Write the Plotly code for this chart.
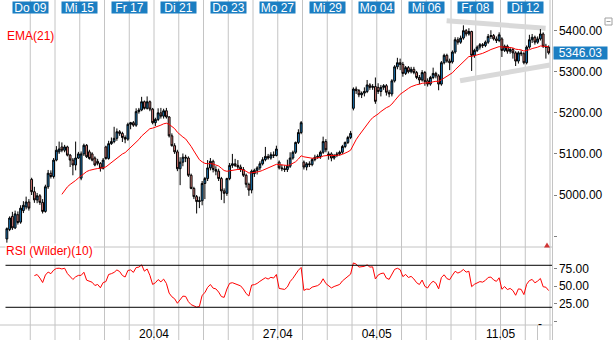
import numpy as np
import plotly.graph_objects as go

# ---- data -------------------------------------------------------------
# hourly bars, 9 per trading day
BARS_PER_DAY = 9
days = ["08.04", "09.04", "14.04", "15.04", "16.04", "17.04", "20.04", "21.04",
        "22.04", "23.04", "24.04", "27.04", "28.04", "29.04", "30.04", "04.05",
        "05.05", "06.05", "07.05", "08.05", "11.05", "12.05"]

top_labels = ["Do 09", "Mi 15", "Fr 17", "Di 21", "Do 23", "Mo 27",
              "Mi 29", "Mo 04", "Mi 06", "Fr 08", "Di 12"]
top_label_days = [1, 3, 5, 7, 9, 11, 13, 15, 17, 19, 21]

week_labels = ["20.04", "27.04", "04.05", "11.05"]
week_label_days = [6, 11, 15, 20]

price_ticks = [4900, 5000, 5100, 5200, 5300, 5400]
price_ticktext = ["", "5000.00", "5100.00", "5200.00", "5300.00", "5400.00"]
rsi_ticks = [0, 25, 50, 75]
rsi_ticktext = ["", "25.00", "50.00", "75.00"]
rsi_levels = [80, 20]

opens = [
    4893, 4916, 4948, 4920, 4952, 4934, 4962, 4971, 4983,   # 08.04
    5038, 5008, 4988, 4998, 4982, 4960, 5020, 5053, 5045,   # 09.04
    5085, 5105, 5117, 5109, 5117, 5097, 5085, 5073, 5090,   # 14.04
    5041, 5100, 5121, 5105, 5100, 5090, 5082, 5077, 5065,   # 15.04
    5117, 5089, 5125, 5130, 5138, 5154, 5150, 5140, 5136,   # 16.04
    5172, 5176, 5170, 5203, 5207, 5227, 5211, 5227, 5209,   # 17.04
    5176, 5184, 5200, 5192, 5205, 5190, 5144, 5120, 5105,   # 20.04
    5064, 5080, 5092, 5090, 5048, 5016, 4996, 4984, 4986,   # 21.04
    5028, 5040, 5066, 5082, 5062, 5058, 5040, 5010, 5004,   # 22.04
    5040, 5072, 5076, 5072, 5068, 5062, 5048, 5026, 5012,   # 23.04
    5052, 5060, 5066, 5076, 5086, 5094, 5090, 5098, 5096,   # 24.04
    5080, 5066, 5064, 5062, 5070, 5090, 5104, 5128, 5152,   # 27.04
    5080, 5068, 5076, 5074, 5086, 5092, 5094, 5104, 5130,   # 28.04
    5096, 5100, 5090, 5096, 5100, 5104, 5118, 5128, 5140,   # 29.04
    5211, 5258, 5254, 5244, 5248, 5252, 5268, 5262, 5264,   # 30.04
    5262, 5252, 5262, 5266, 5250, 5246, 5278, 5312, 5322,   # 04.05
    5318, 5296, 5310, 5300, 5306, 5298, 5286, 5280, 5298,   # 05.05
    5278, 5270, 5286, 5296, 5290, 5270, 5322, 5340, 5326,   # 06.05
    5324, 5348, 5378, 5372, 5382, 5400, 5392, 5398, 5340,   # 07.05
    5352, 5360, 5366, 5364, 5372, 5386, 5388, 5380, 5376,   # 08.05
    5380, 5352, 5362, 5350, 5354, 5346, 5326, 5346, 5344,   # 11.05
    5322, 5360, 5378, 5384, 5372, 5380, 5392, 5362, 5360,   # 12.05
]
highs = [
    4921, 4948, 4959, 4962, 4960, 4975, 4985, 4996, 4990,
    5042, 5020, 5005, 5002, 4990, 5025, 5061, 5060, 5090,
    5119, 5130, 5128, 5122, 5120, 5100, 5090, 5130, 5105,
    5106, 5125, 5124, 5110, 5104, 5094, 5088, 5080, 5090,
    5120, 5132, 5140, 5166, 5162, 5158, 5154, 5145, 5176,
    5178, 5180, 5211, 5212, 5239, 5230, 5240, 5230, 5212,
    5188, 5211, 5212, 5210, 5212, 5192, 5150, 5126, 5110,
    5092, 5101, 5098, 5094, 5052, 5020, 5000, 4996, 5034,
    5044, 5085, 5090, 5086, 5070, 5064, 5044, 5016, 5042,
    5078, 5100, 5088, 5085, 5074, 5068, 5052, 5030, 5062,
    5064, 5070, 5082, 5092, 5117, 5100, 5104, 5106, 5120,
    5084, 5074, 5072, 5086, 5104, 5108, 5130, 5160, 5180,
    5084, 5080, 5082, 5090, 5098, 5099, 5108, 5142, 5136,
    5106, 5104, 5100, 5105, 5108, 5122, 5130, 5144, 5156,
    5262, 5264, 5258, 5252, 5262, 5280, 5272, 5270, 5286,
    5272, 5268, 5270, 5270, 5256, 5282, 5316, 5334, 5332,
    5324, 5314, 5314, 5312, 5312, 5302, 5292, 5304, 5302,
    5284, 5290, 5310, 5300, 5294, 5326, 5344, 5344, 5332,
    5352, 5384, 5384, 5388, 5413, 5404, 5406, 5400, 5356,
    5364, 5370, 5370, 5376, 5392, 5401, 5392, 5386, 5396,
    5384, 5366, 5366, 5360, 5358, 5350, 5350, 5352, 5348,
    5364, 5390, 5392, 5388, 5386, 5404, 5396, 5368, 5364,
]
lows = [
    4884, 4912, 4915, 4917, 4928, 4930, 4956, 4965, 4962,
    5000, 4981, 4980, 4976, 4955, 4957, 5015, 5040, 5040,
    5082, 5100, 5104, 5104, 5094, 5068, 5048, 5060, 5088,
    5036, 5095, 5090, 5086, 5082, 5070, 5072, 5057, 5062,
    5086, 5086, 5122, 5126, 5132, 5144, 5129, 5126, 5132,
    5160, 5166, 5166, 5198, 5204, 5208, 5208, 5204, 5172,
    5168, 5180, 5186, 5186, 5186, 5140, 5118, 5100, 5058,
    5024, 5070, 5080, 5044, 5014, 4990, 4955, 4968, 4975,
    4990, 5034, 5060, 5055, 5048, 5034, 4988, 4980, 4998,
    5036, 5066, 5068, 5062, 5056, 5044, 5018, 4998, 5004,
    5044, 5050, 5060, 5072, 5082, 5086, 5086, 5090, 5094,
    5062, 5058, 5056, 5056, 5066, 5086, 5100, 5124, 5148,
    5062, 5060, 5068, 5070, 5082, 5088, 5088, 5100, 5104,
    5086, 5082, 5086, 5092, 5096, 5100, 5114, 5124, 5136,
    5206, 5246, 5238, 5236, 5240, 5248, 5256, 5256, 5222,
    5246, 5240, 5256, 5242, 5238, 5240, 5274, 5306, 5304,
    5288, 5292, 5296, 5296, 5294, 5282, 5270, 5276, 5266,
    5264, 5266, 5282, 5284, 5255, 5266, 5318, 5322, 5304,
    5320, 5344, 5366, 5368, 5378, 5386, 5388, 5302, 5334,
    5348, 5354, 5358, 5360, 5368, 5380, 5376, 5370, 5372,
    5336, 5348, 5344, 5344, 5332, 5314, 5320, 5338, 5318,
    5318, 5356, 5370, 5366, 5368, 5376, 5358, 5332, 5342,
]
closes = [
    4918, 4944, 4920, 4954, 4933, 4968, 4975, 4983, 4968,
    5008, 4988, 4998, 4982, 4960, 5020, 5053, 5045, 5085,
    5109, 5112, 5109, 5117, 5097, 5085, 5073, 5090, 5100,
    5100, 5121, 5093, 5089, 5085, 5073, 5077, 5065, 5085,
    5089, 5125, 5130, 5138, 5154, 5150, 5140, 5136, 5172,
    5176, 5170, 5203, 5207, 5227, 5211, 5227, 5209, 5176,
    5184, 5200, 5192, 5205, 5190, 5144, 5120, 5105, 5064,
    5080, 5092, 5090, 5048, 5016, 4996, 4984, 4986, 5028,
    5040, 5066, 5082, 5062, 5058, 5040, 5010, 5004, 5040,
    5072, 5076, 5072, 5068, 5062, 5048, 5026, 5012, 5058,
    5060, 5066, 5076, 5086, 5094, 5090, 5098, 5096, 5112,
    5066, 5064, 5062, 5070, 5090, 5104, 5128, 5152, 5176,
    5068, 5076, 5074, 5086, 5092, 5094, 5104, 5130, 5110,
    5100, 5090, 5096, 5100, 5104, 5118, 5128, 5140, 5150,
    5258, 5254, 5244, 5248, 5252, 5268, 5262, 5264, 5228,
    5252, 5262, 5266, 5250, 5246, 5278, 5312, 5322, 5318,
    5296, 5310, 5300, 5306, 5298, 5286, 5280, 5298, 5276,
    5270, 5286, 5296, 5290, 5270, 5322, 5340, 5326, 5322,
    5348, 5378, 5372, 5382, 5400, 5392, 5398, 5340, 5352,
    5360, 5366, 5364, 5372, 5386, 5388, 5380, 5376, 5390,
    5352, 5362, 5350, 5354, 5346, 5326, 5346, 5344, 5322,
    5360, 5378, 5384, 5372, 5380, 5392, 5362, 5360, 5346.03,
]

# hand-drawn channel lines: (bar, price) end points
channel_upper = [(159.9, 5424.3), (195.9, 5405.8)]
channel_lower = [(164.8, 5278.2), (197.5, 5316.5)]

EMA_PERIOD = 21
RSI_PERIOD = 10


# ---- indicators -------------------------------------------------------
def ema(values, n):
    out = [None] * len(values)
    k = 2.0 / (n + 1)
    e = sum(values[:n]) / n
    out[n - 1] = e
    for i in range(n, len(values)):
        e = values[i] * k + e * (1 - k)
        out[i] = e
    return out


def rsi_wilder(values, n):
    v = np.asarray(values, dtype=float)
    d = np.diff(v)
    g = np.where(d > 0, d, 0.0)
    l = np.where(d < 0, -d, 0.0)
    out = [None] * len(v)
    ag, al = g[:n].mean(), l[:n].mean()
    out[n] = 100 - 100 / (1 + ag / al) if al > 0 else 100.0
    for i in range(n, len(d)):
        ag = (ag * (n - 1) + g[i]) / n
        al = (al * (n - 1) + l[i]) / n
        out[i + 1] = 100 - 100 / (1 + ag / al) if al > 0 else 100.0
    return out


n_bars = len(closes)
x = np.arange(n_bars)
ema_vals = ema(closes, EMA_PERIOD)
rsi_vals = rsi_wilder(closes, RSI_PERIOD)

# ---- geometry ---------------------------------------------------------
W, H = 614, 340
PLOT_R = 552.5                  # right edge of the chart area (px)
X_RANGE = [-2.5, 198.4]
MAIN_TOP, MAIN_BOT = 0, 247     # px
RSI_TOP, RSI_BOT = 248, 325     # px
Y_RANGE = [4873.4, 5474.7]
RSI_RANGE = [-5.3, 104.7]

BLUE = "#1b7ec2"
DOWN = "#f08a86"
GRID = "#c4c4c4"
FONT = "Arial, Liberation Sans, sans-serif"


def py(px):
    return 1 - px / H


def day_start(d):
    return d * BARS_PER_DAY - 0.5


fig = go.Figure()

fig.add_trace(go.Candlestick(
    x=x, open=opens, high=highs, low=lows, close=closes,
    increasing=dict(fillcolor=BLUE, line=dict(color="black", width=1)),
    decreasing=dict(fillcolor=DOWN, line=dict(color="black", width=1)),
    whiskerwidth=0, xaxis="x", yaxis="y", showlegend=False, hoverinfo="skip",
))
fig.add_trace(go.Scatter(
    x=x, y=ema_vals, mode="lines", line=dict(color="#ff0000", width=1),
    xaxis="x", yaxis="y", showlegend=False, hoverinfo="skip",
))
fig.add_trace(go.Scatter(
    x=x, y=rsi_vals, mode="lines", line=dict(color="#ff0000", width=1),
    xaxis="x2", yaxis="y2", showlegend=False, hoverinfo="skip",
))

shapes = []
# daily vertical grid lines through all panels
for d in range(1, len(days) + 1):
    shapes.append(dict(type="line", xref="x", yref="paper",
                       x0=day_start(d), x1=day_start(d), y0=0, y1=1,
                       line=dict(color=GRID, width=1), layer="below"))
# channel lines
for pts in (channel_upper, channel_lower):
    shapes.append(dict(type="line", xref="x", yref="y",
                       x0=pts[0][0], y0=pts[0][1], x1=pts[1][0], y1=pts[1][1],
                       line=dict(color="#d9d9d9", width=5), layer="below"))
# RSI bands
for lv in rsi_levels:
    shapes.append(dict(type="line", xref="x", yref="y2",
                       x0=-0.5, x1=X_RANGE[1], y0=lv, y1=lv,
                       line=dict(color="black", width=1)))
# panel borders
for ypx in (MAIN_BOT, RSI_BOT):
    shapes.append(dict(type="line", xref="paper", yref="paper",
                       x0=0, x1=PLOT_R / W, y0=py(ypx), y1=py(ypx),
                       line=dict(color=GRID, width=1)))
shapes.append(dict(type="line", xref="paper", yref="paper",
                   x0=PLOT_R / W, x1=PLOT_R / W, y0=0, y1=1,
                   line=dict(color=GRID, width=1)))
# small button in the bottom strip
shapes.append(dict(type="line", xref="paper", yref="paper",
                   x0=537.5 / W, x1=537.5 / W, y0=0, y1=py(RSI_BOT),
                   line=dict(color=GRID, width=1)))
# marker triangle at the bottom of the price panel
shapes.append(dict(type="path", xref="paper", yref="paper",
                   path=f"M {544/W} {py(247.5)} L {550/W} {py(247.5)} L {547/W} {py(242.5)} Z",
                   fillcolor="#d03434", line=dict(width=0)))
# collapse icon, top right
shapes.append(dict(type="rect", xref="paper", yref="paper",
                   x0=605 / W, x1=612 / W, y0=py(25), y1=py(18),
                   line=dict(color="#a0a0a0", width=1), fillcolor="white"))
shapes.append(dict(type="line", xref="paper", yref="paper",
                   x0=606.5 / W, x1=610.5 / W, y0=py(21.5), y1=py(21.5),
                   line=dict(color="#a0a0a0", width=1)))

annotations = []
for lab, d in zip(top_labels, top_label_days):
    annotations.append(dict(
        x=day_start(d), xref="x", y=py(1), yref="paper", yanchor="top",
        text=lab, showarrow=False, bgcolor=BLUE, width=35, height=11,
        borderpad=0, font=dict(family=FONT, size=12, color="white")))
annotations.append(dict(
    x=PLOT_R / W, xref="paper", y=closes[-1], yref="y", xanchor="left",
    text=f"{closes[-1]:.2f}", showarrow=False, bgcolor=BLUE, width=53, height=12,
    borderpad=0, font=dict(family=FONT, size=12, color="white")))
annotations.append(dict(
    x=5 / W, xref="paper", y=py(27), yref="paper", xanchor="left",
    text=f"EMA({EMA_PERIOD})", showarrow=False,
    font=dict(family=FONT, size=12, color="#ff0000")))
annotations.append(dict(
    x=5 / W, xref="paper", y=py(259), yref="paper", xanchor="left",
    text=f"RSI (Wilder)({RSI_PERIOD})", showarrow=False, bgcolor="white",
    borderpad=0, font=dict(family=FONT, size=12, color="#ff0000")))
annotations.append(dict(
    x=544 / W, xref="paper", y=py(333), yref="paper",
    text="-", showarrow=False, font=dict(family=FONT, size=12, color="black")))

axis_common = dict(showgrid=False, zeroline=False, showline=False, fixedrange=True)

fig.update_layout(
    width=W, height=H, margin=dict(l=0, r=0, t=0, b=0),
    paper_bgcolor="white", plot_bgcolor="white",
    font=dict(family=FONT, size=12, color="black"),
    shapes=shapes, annotations=annotations, showlegend=False,
    boxgap=0.05,
    xaxis=dict(domain=[0, PLOT_R / W], range=X_RANGE, anchor="y",
               showticklabels=False, ticks="", rangeslider=dict(visible=False),
               **axis_common),
    yaxis=dict(domain=[py(MAIN_BOT), py(MAIN_TOP)], range=Y_RANGE, anchor="x",
               side="right", tickvals=price_ticks, ticktext=price_ticktext,
               ticks="outside", ticklen=3, tickcolor="#808080",
               tickfont=dict(size=12), **axis_common),
    xaxis2=dict(domain=[0, PLOT_R / W], range=X_RANGE, anchor="y2", matches="x",
                tickvals=[day_start(d) for d in week_label_days],
                ticktext=week_labels, ticks="", tickfont=dict(size=12),
                **axis_common),
    yaxis2=dict(domain=[py(RSI_BOT), py(RSI_TOP)], range=RSI_RANGE, anchor="x2",
                side="right", tickvals=rsi_ticks, ticktext=rsi_ticktext,
                ticks="outside", ticklen=3, tickcolor="#808080",
                tickfont=dict(size=12), **axis_common),
)

fig.write_html("out.html")
